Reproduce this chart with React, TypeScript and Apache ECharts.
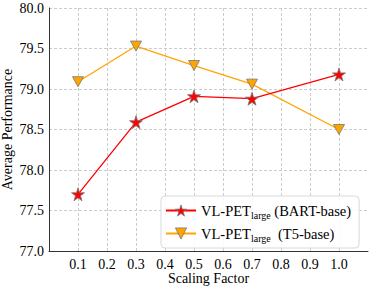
import React, { useEffect, useRef } from "react";
import * as echarts from "echarts";

const scales = [0.1, 0.3, 0.5, 0.7, 1.0];
const bartValues = [77.7, 78.59, 78.91, 78.88, 79.18];
const t5Values = [79.09, 79.53, 79.29, 79.06, 78.5];
const seriesNames = ["VL-PET_large (BART-base)", "VL-PET_large  (T5-base)"];

const STAR =
  "path://M50 0 L61.2 34.5 L97.6 34.5 L68.2 55.9 L79.4 90.5 L50 69.1 L20.6 90.5 L31.8 55.9 L2.4 34.5 L38.8 34.5 Z";
const FONT = "Liberation Serif";

export default function App() {
  const ref = useRef<HTMLDivElement>(null);
  useEffect(() => {
    const chart = echarts.init(ref.current!, null, { renderer: "svg" });
    chart.setOption({
      animation: false,
      textStyle: { fontFamily: FONT },
      grid: { left: 49, right: 6, top: 8, bottom: 36, outerBoundsMode: "none", containLabel: false },
      xAxis: {
        type: "value",
        min: 0,
        max: 1.1,
        interval: 0.1,
        name: "Scaling Factor",
        nameLocation: "middle",
        nameGap: 20,
        nameMoveOverlap: false,
        nameTextStyle: { fontFamily: FONT, fontSize: 14, color: "#000" },
        axisLine: { show: true, lineStyle: { color: "#333", width: 1 } },
        axisTick: { show: false },
        axisLabel: {
          fontFamily: FONT,
          fontSize: 14,
          color: "#000",
          margin: 6,
          showMinLabel: false,
          showMaxLabel: false,
          formatter: (v: number) => v.toFixed(1),
        },
        splitLine: {
          show: true,
          showMinLine: false,
          showMaxLine: false,
          lineStyle: { color: "#cccccc", type: [3, 2], width: 1 },
        },
      },
      yAxis: {
        type: "value",
        min: 77,
        max: 80,
        interval: 0.5,
        name: "Average Performance",
        nameLocation: "middle",
        nameGap: 35,
        nameMoveOverlap: false,
        nameTextStyle: { fontFamily: FONT, fontSize: 14, color: "#000" },
        axisLine: { show: true, lineStyle: { color: "#333", width: 1 } },
        axisTick: { show: false },
        axisLabel: {
          fontFamily: FONT,
          fontSize: 14,
          color: "#000",
          margin: 5,
          formatter: (v: number) => v.toFixed(1),
        },
        splitLine: {
          show: true,
          showMinLine: false,
          lineStyle: { color: "#cccccc", type: [3, 2], width: 1 },
        },
      },
      legend: {
        orient: "vertical",
        left: 161,
        top: 196,
        padding: [5, 8, 5, 4],
        itemGap: 4,
        itemWidth: 30,
        itemHeight: 14,
        backgroundColor: "rgba(255,255,255,0.85)",
        borderColor: "#d9d9d9",
        borderWidth: 1,
        borderRadius: 4,
        data: [
          { name: seriesNames[0], itemStyle: { color: "#ff0000", borderColor: "#777", borderWidth: 0.8 } },
          { name: seriesNames[1], itemStyle: { color: "#ffa500", borderColor: "#777", borderWidth: 0.8 } },
        ],
        formatter: (name: string) => {
          const m = name.match(/^VL-PET_large(\s+)(.*)$/);
          if (!m) return name;
          return `{a|VL-PET}{s|large}{a|${m[1] + m[2]}}`;
        },
        textStyle: {
          fontFamily: FONT,
          fontSize: 14,
          color: "#000",
          rich: {
            a: { fontFamily: FONT, fontSize: 14.5, color: "#000", lineHeight: 19, verticalAlign: "middle" },
            s: { fontFamily: FONT, fontSize: 10, color: "#000", lineHeight: 19, verticalAlign: "bottom", padding: [9, 0, 0, 0] },
          },
        },
      },
      series: [
        {
          name: seriesNames[0],
          type: "line",
          data: scales.map((x, i) => [x, bartValues[i]]),
          symbol: STAR,
          symbolSize: 13,
          lineStyle: { color: "#ff0000", width: 1.3 },
          itemStyle: { color: "#ff0000", borderColor: "#777", borderWidth: 0.8 },
          z: 3,
        },
        {
          name: seriesNames[1],
          type: "line",
          data: scales.map((x, i) => [x, t5Values[i]]),
          symbol: "triangle",
          symbolRotate: 180,
          symbolSize: [11, 10],
          lineStyle: { color: "#ffa500", width: 1.3 },
          itemStyle: { color: "#ffa500", borderColor: "#777", borderWidth: 0.8 },
          z: 2,
        },
      ],
    });
    return () => chart.dispose();
  }, []);
  return (
    <div
      ref={ref}
      style={{ position: "absolute", left: 0, top: 0, width: 374, height: 287 }}
    />
  );
}
